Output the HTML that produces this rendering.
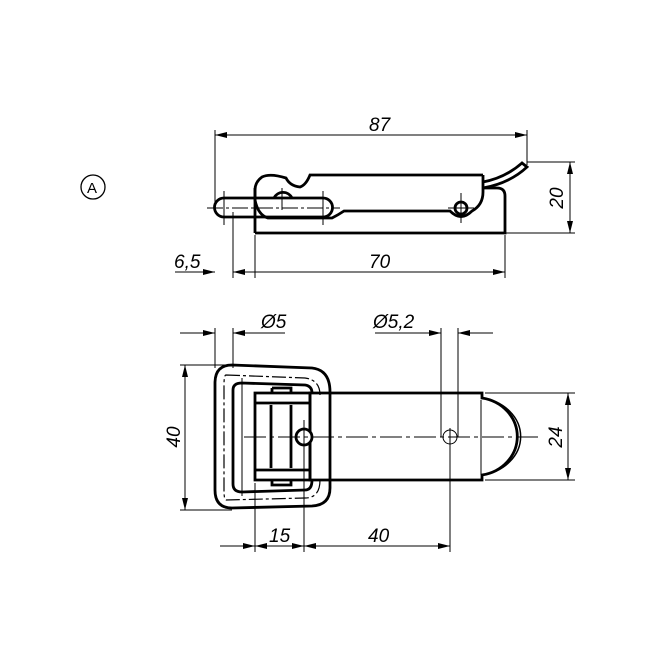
<!DOCTYPE html>
<html><head><style>html,body{margin:0;padding:0;background:#fff}</style></head><body>
<svg width="654" height="654" viewBox="0 0 654 654" xmlns="http://www.w3.org/2000/svg" font-family="Liberation Sans, sans-serif" font-style="italic" font-size="19">
<defs>
<marker id="a" viewBox="0 0 12 6" refX="12" refY="3" markerWidth="12" markerHeight="6" orient="auto-start-reverse" markerUnits="userSpaceOnUse"><path d="M0,0 L12,3 L0,6z" fill="#000"/></marker>
</defs>
<g fill="none" stroke="#000">
<circle cx="93" cy="187" r="12" stroke-width="1.3"/>
<g stroke-width="2.8">
<path d="M255,233 V188 M255,233 H505 V196 Q505,188 497,188 H483"/>
<path d="M483,175 H310 Q306,185 300,187 Q290,186 286,178 Q270,173 262,177 Q255,182 255,190 V200 Q258,215 268,218 H332 Q338,215 344,211 H450 Q461,222 472,211 Q483,205 483,192 V175"/>
<path d="M483,182 Q505,178 522,163 L527,167 Q510,183 483,188"/>
<path d="M224,198 H323 A9.5,9.5 0 0 1 323,217 H224 A9.5,9.5 0 0 1 224,198 Z"/>
<path d="M274,198 A10,10 0 0 1 292,198"/>
<circle cx="461" cy="208" r="6"/>
</g>
<g stroke-width="1">
<path d="M207,208 H340" stroke-dasharray="16,3,3,3"/>
<path d="M224,191 V225 M323,191 V225 M282,188 V210 M461,193 V223 M448,208 H474"/>
<path d="M215,130 V205 M527,130 V165 M233,212 V278 M255,235 V278 M505,235 V278 M505,233 H575 M527,162 H575"/>
<path d="M215,135 H527" marker-start="url(#a)" marker-end="url(#a)"/>
<path d="M570,162 V233" marker-start="url(#a)" marker-end="url(#a)"/>
<path d="M175,272 H215" marker-end="url(#a)"/>
<path d="M233,272 H505" marker-start="url(#a)" marker-end="url(#a)"/>
</g>
<g stroke-width="2.8">
<path d="M232,365 L312,368 Q330,370 330,392 V488 Q330,505 312,506 L232,508 Q215,508 215,490 V383 Q215,365 232,365 Z"/>
<path d="M242,383 L305,385 Q312,386 312,393 M312,480 Q312,490 305,490 L242,492 Q233,492 233,484 V390 Q233,383 242,383"/>
<path d="M310,393 H482 V398 A42,39 0 0 1 482,475 V480 H310 Z"/>
<path d="M255,393 H310 V480 H255 Z"/>
<path d="M255,403 H310 M255,470 H310 M271,405 V468 M291,405 V468"/>
<path d="M272,388 H291 V393 M272,388 V393 M272,480 V485 H291 V480"/>
<circle cx="304" cy="437" r="8" fill="#fff"/>
</g>
<path d="M482,398 A46,39 0 0 1 482,475" stroke-width="1.5"/>
<path d="M226,375 L305,378 Q320,380 320,395 M320,480 Q320,498 305,498 L226,500 Q224,500 224,490 V385 Q224,375 226,375" stroke-width="1.2" stroke-dasharray="14,3,3,3"/>
<g stroke-width="1">
<path d="M244,437 H540" stroke-dasharray="22,4,4,4"/>
<circle cx="450" cy="437" r="7"/>
<path d="M481,400 V475 M242,378 V496 M304,420 V552 M255,483 V552 M450,428 V552"/>
<path d="M215,328 V368 M233,328 V368 M441,328 V437 M458,328 V437"/>
<path d="M180,365 H232 M180,510 H232 M485,393 H575 M485,480 H575"/>
<path d="M180,333 H215" marker-end="url(#a)"/><path d="M233,333 H285" marker-start="url(#a)"/>
<path d="M375,333 H441" marker-end="url(#a)"/><path d="M458,333 H493" marker-start="url(#a)"/>
<path d="M185,365 V510" marker-start="url(#a)" marker-end="url(#a)"/>
<path d="M568,393 V480" marker-start="url(#a)" marker-end="url(#a)"/>
<path d="M220,546 H255" marker-end="url(#a)"/>
<path d="M255,546 H304" marker-start="url(#a)" marker-end="url(#a)"/>
<path d="M304,546 H450" marker-start="url(#a)" marker-end="url(#a)"/>
</g>
</g>
<g fill="#000">
<text x="87" y="193" font-style="normal" font-size="15">A</text>
<text x="369" y="131">87</text>
<text x="174" y="268">6,5</text>
<text x="369" y="268">70</text>
<text x="563" y="198" transform="rotate(-90 563 198)" text-anchor="middle">20</text>
<text x="261" y="328">Ø5</text>
<text x="373" y="328">Ø5,2</text>
<text x="180" y="437" transform="rotate(-90 180 437)" text-anchor="middle">40</text>
<text x="562" y="437" transform="rotate(-90 562 437)" text-anchor="middle">24</text>
<text x="269" y="542">15</text>
<text x="368" y="542">40</text>
</g>
</svg>
</body></html>
